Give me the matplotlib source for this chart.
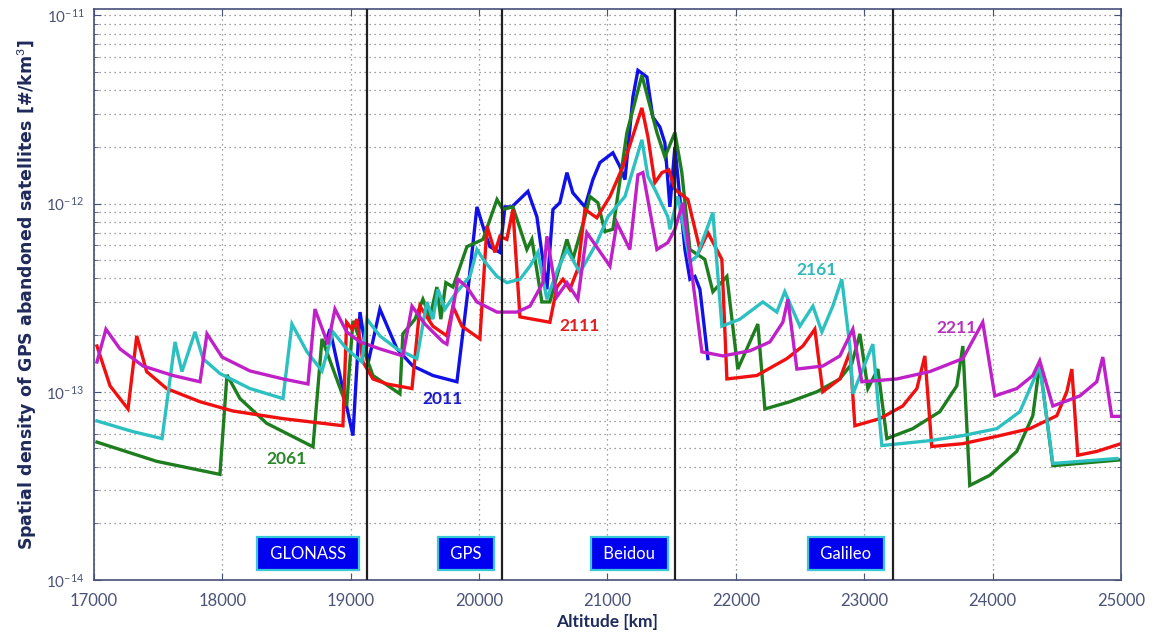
import matplotlib
matplotlib.use('Agg')
import matplotlib.pyplot as plt
from matplotlib.ticker import FixedLocator, NullFormatter, MultipleLocator

plt.rcParams['font.family'] = ['Lato', 'DejaVu Sans']
plt.rcParams['mathtext.fontset'] = 'custom'
plt.rcParams['mathtext.rm'] = 'Lato'
plt.rcParams['mathtext.bf'] = 'Lato:bold'

# altitude [km] / spatial density [#/km^3]
alt_2011 = [18800, 18838, 19017, 19072, 19134, 19227, 19360, 19484, 19640, 19827, 19905, 19983,
            20045, 20084, 20162, 20201, 20255, 20380, 20450, 20528, 20575, 20629, 20684, 20730,
            20824, 20886, 20941, 21042, 21097, 21136, 21198, 21237, 21307, 21353, 21408, 21447,
            21486, 21525, 21603, 21642, 21681, 21720, 21782]
den_2011 = [1.79e-13, 2.15e-13, 5.85e-14, 2.65e-13, 1.41e-13, 2.75e-13, 1.69e-13, 1.37e-13, 1.22e-13,
            1.13e-13, 3.1e-13, 9.6e-13, 7.0e-13, 5.9e-13, 5.5e-13, 9.6e-13, 9.6e-13, 1.16e-12, 8.5e-13,
            3.5e-13, 9.3e-13, 1.01e-12, 1.46e-12, 1.14e-12, 9.6e-13, 1.34e-12, 1.65e-12, 1.86e-12,
            1.57e-12, 1.34e-12, 3.68e-12, 5.1e-12, 4.7e-12, 2.88e-12, 2.55e-12, 2.1e-12, 9.6e-13,
            2.0e-12, 5.7e-13, 3.96e-13, 4.1e-13, 3.5e-13, 1.5e-13]

alt_2061 = [17023, 17488, 17981, 18036, 18137, 18345, 18706, 18776, 18968, 19017, 19173, 19383,
            19406, 19500, 19562, 19617, 19671, 19702, 19741, 19796, 19905, 20030, 20139, 20185,
            20263, 20372, 20411, 20489, 20551, 20684, 20730, 20824, 20863, 20925, 20980, 21042,
            21151, 21268, 21385, 21447, 21525, 21579, 21642, 21758, 21821, 21930, 22015, 22171,
            22226, 22420, 22631, 22810, 22903, 22966, 23028, 23106, 23176, 23378, 23589, 23721,
            23768, 23822, 23978, 24188, 24313, 24367, 24469, 25000]
den_2061 = [5.4e-14, 4.27e-14, 3.64e-14, 1.23e-13, 9.2e-14, 6.8e-14, 5.1e-14, 1.91e-13, 8.4e-14,
            2.38e-13, 1.22e-13, 9.75e-14, 2.03e-13, 2.43e-13, 3.1e-13, 2.5e-13, 3.6e-13, 2.43e-13,
            3.8e-13, 3.6e-13, 5.9e-13, 6.45e-13, 1.05e-12, 9.3e-13, 9.6e-13, 5.7e-13, 6.45e-13,
            3.0e-13, 3.0e-13, 6.45e-13, 5.05e-13, 8.5e-13, 1.09e-12, 1.01e-12, 7.1e-13, 7.3e-13,
            2.38e-12, 4.8e-12, 2.38e-12, 1.77e-12, 2.38e-12, 1.46e-12, 5.7e-13, 5.05e-13, 3.4e-13,
            4.1e-13, 1.32e-13, 2.29e-13, 8.1e-14, 8.85e-14, 1.0e-13, 1.17e-13, 1.41e-13, 2.03e-13,
            1.04e-13, 1.32e-13, 5.64e-14, 6.37e-14, 7.84e-14, 1.075e-13, 1.75e-13, 3.18e-14, 3.6e-14,
            4.82e-14, 7.46e-14, 1.41e-13, 4.05e-14, 4.35e-14]

alt_2111 = [17023, 17125, 17265, 17333, 17410, 17566, 17826, 18083, 18472, 18939, 18968, 19010,
            19048, 19095, 19173, 19282, 19477, 19539, 19640, 19749, 19796, 19866, 20006, 20061,
            20123, 20162, 20216, 20263, 20318, 20551, 20606, 20653, 20707, 20769, 20824, 20917,
            21019, 21120, 21268, 21315, 21369, 21424, 21478, 21525, 21626, 21720, 21782, 21891,
            21930, 22163, 22397, 22522, 22615, 22677, 22810, 22888, 22927, 23121, 23300, 23410,
            23472, 23526, 23768, 24033, 24290, 24500, 24578, 24617, 24663, 24811, 25000]
den_2111 = [1.75e-13, 1.075e-13, 8.1e-14, 1.98e-13, 1.28e-13, 1.04e-13, 8.85e-14, 7.9e-14, 7.2e-14,
            6.6e-14, 2.34e-13, 2.15e-13, 2.43e-13, 1.44e-13, 1.17e-13, 1.10e-13, 1.04e-13, 2.85e-13,
            2.23e-13, 1.98e-13, 2.85e-13, 2.23e-13, 1.91e-13, 7.6e-13, 5.5e-13, 6.7e-13, 6.45e-13,
            9.3e-13, 2.5e-13, 2.34e-13, 3.6e-13, 3.96e-13, 3.5e-13, 4.5e-13, 9.3e-13, 8.4e-13,
            1.09e-12, 1.57e-12, 3.22e-12, 2.26e-12, 1.29e-12, 1.46e-12, 1.51e-12, 1.19e-12, 1.05e-12,
            5.7e-13, 7.0e-13, 5.05e-13, 1.17e-13, 1.22e-13, 1.5e-13, 1.75e-13, 2.15e-13, 1.0e-13,
            1.17e-13, 1.63e-13, 6.6e-14, 7.2e-14, 8.4e-14, 1.04e-13, 1.55e-13, 5.12e-14, 5.3e-14,
            5.8e-14, 6.37e-14, 7.46e-14, 1.0e-13, 1.32e-13, 4.6e-14, 4.82e-14, 5.3e-14]

alt_2161 = [17023, 17304, 17530, 17631, 17685, 17787, 17849, 17981, 18215, 18472, 18542, 18659,
            18776, 18861, 18968, 19087, 19126, 19227, 19360, 19515, 19593, 19640, 19679, 19734,
            19812, 19928, 19983, 20045, 20139, 20216, 20318, 20396, 20458, 20528, 20614, 20684,
            20785, 20917, 21003, 21136, 21268, 21315, 21369, 21470, 21486, 21548, 21642, 21696,
            21821, 21891, 22031, 22210, 22319, 22381, 22498, 22600, 22670, 22755, 22825, 22888,
            22911, 23067, 23137, 23511, 23768, 24033, 24212, 24367, 24469, 24967]
den_2161 = [7.0e-14, 6.14e-14, 5.64e-14, 1.84e-13, 1.28e-13, 2.08e-13, 1.5e-13, 1.25e-13, 1.04e-13,
            9.2e-14, 2.29e-13, 1.63e-13, 1.29e-13, 2.08e-13, 1.69e-13, 1.44e-13, 2.43e-13, 1.98e-13,
            1.69e-13, 1.5e-13, 3.0e-13, 2.43e-13, 3.5e-13, 2.75e-13, 3.3e-13, 4.1e-13, 5.7e-13,
            4.9e-13, 4.1e-13, 3.8e-13, 3.96e-13, 4.65e-13, 5.5e-13, 3.1e-13, 4.5e-13, 5.7e-13,
            4.3e-13, 6.2e-13, 8.5e-13, 1.09e-12, 2.18e-12, 1.39e-12, 1.19e-12, 8.5e-13, 7.3e-13,
            1.09e-12, 4.9e-13, 5.25e-13, 8.96e-13, 2.23e-13, 2.43e-13, 3.0e-13, 2.65e-13, 3.4e-13,
            2.23e-13, 2.85e-13, 2.08e-13, 2.85e-13, 3.96e-13, 1.75e-13, 9.75e-14, 1.79e-13, 5.18e-14,
            5.5e-14, 5.85e-14, 6.37e-14, 7.84e-14, 1.37e-13, 4.16e-14, 4.42e-14]

alt_2211 = [17023, 17093, 17202, 17382, 17615, 17826, 17880, 17997, 18215, 18472, 18667, 18721,
            18822, 18877, 18968, 19072, 19227, 19406, 19477, 19578, 19718, 19749, 19835, 19905,
            19983, 20139, 20294, 20396, 20497, 20528, 20606, 20684, 20769, 20839, 21019, 21073,
            21174, 21237, 21276, 21385, 21470, 21525, 21587, 21735, 21899, 22109, 22265, 22366,
            22405, 22475, 22677, 22810, 22911, 22981, 23254, 23511, 23768, 23923, 24017, 24188,
            24313, 24367, 24469, 24679, 24811, 24858, 24928, 25000]
den_2211 = [1.44e-13, 2.15e-13, 1.69e-13, 1.37e-13, 1.22e-13, 1.13e-13, 2.03e-13, 1.53e-13, 1.29e-13,
            1.17e-13, 1.10e-13, 2.75e-13, 1.79e-13, 2.75e-13, 2.08e-13, 1.84e-13, 1.69e-13, 1.55e-13,
            2.85e-13, 2.29e-13, 1.84e-13, 1.79e-13, 3.96e-13, 3.6e-13, 3.0e-13, 2.65e-13, 2.65e-13,
            2.85e-13, 3.8e-13, 6.7e-13, 3.2e-13, 3.8e-13, 3.1e-13, 7.0e-13, 4.65e-13, 7.9e-13,
            5.7e-13, 1.42e-12, 1.46e-12, 5.7e-13, 6.2e-13, 7.3e-13, 1.01e-12, 1.63e-13, 1.55e-13,
            1.65e-13, 1.84e-13, 2.34e-13, 3.1e-13, 1.32e-13, 1.37e-13, 1.55e-13, 2.15e-13, 1.13e-13,
            1.17e-13, 1.28e-13, 1.5e-13, 2.34e-13, 9.5e-14, 1.04e-13, 1.22e-13, 1.46e-13, 8.4e-14,
            9.5e-14, 1.13e-13, 1.53e-13, 7.4e-14, 7.4e-14]

# year labels placed next to the curves
year_labels = ['2011', '2061', '2111', '2161', '2211']
year_label_alt = [19718, 18503, 20785, 22631, 23721]
year_label_den = [9.2e-14, 4.37e-14, 2.23e-13, 4.43e-13, 2.18e-13]

# constellation altitudes (black lines) and label boxes
const_alt = [19130, 20180, 21528, 23222]
const_names = ['GLONASS', 'GPS', 'Beidou', 'Galileo']
const_label_alt = [18667, 19897, 21171, 22857]

# y axis decades
y_decades = [1e-14, 1e-13, 1e-12, 1e-11]

series = [(alt_2011, den_2011, '#1010e8', '#1a1ad0'),
          (alt_2061, den_2061, '#1e7d1e', '#2a852a'),
          (alt_2111, den_2111, '#f01010', '#e02020'),
          (alt_2161, den_2161, '#2cc0c0', '#30b8b8'),
          (alt_2211, den_2211, '#c020c8', '#b830c0')]

spine_c = '#46507a'
tick_c = '#4a5478'
label_c = '#1f2a5c'

fig = plt.figure(figsize=(11.59, 6.34), dpi=100)
ax = fig.add_axes([94/1159, 54/634, 1027/1159, 571/634])

for alt, den, c, _ in series:
    ax.plot(alt, den, color=c, lw=2.4, solid_joinstyle='miter')

for (alt, den, _, lc), txt, lx, ly in zip(series, year_labels, year_label_alt, year_label_den):
    ax.text(lx, ly, txt, color=lc, fontsize=12.5, fontweight='bold', ha='center', va='center')

for a in const_alt:
    ax.axvline(a, color='#202020', lw=1.6, zorder=4)

for name, a in zip(const_names, const_label_alt):
    ax.text(a, 1.38e-14, ' ' + name + ' ', color='white', fontsize=12, ha='center', va='center',
            zorder=6, bbox=dict(boxstyle='square,pad=0.5', fc='#0000f0', ec='#38c8d8', lw=1.6))

ax.set_yscale('log')
ax.set_xlim(17000, 25000)
ax.set_ylim(1e-14, 1.08e-11)
ax.xaxis.set_major_locator(MultipleLocator(1000))
ax.yaxis.set_major_locator(FixedLocator(y_decades))
minor_y = [m * d for d in y_decades[:-1] for m in range(2, 10)]
ax.yaxis.set_minor_locator(FixedLocator(minor_y))
ax.yaxis.set_minor_formatter(NullFormatter())

ax.grid(True, which='major', axis='both', linestyle=(0, (1, 3)), color='#808080', lw=0.9)
ax.grid(True, which='minor', axis='y', linestyle=(0, (1, 3)), color='#808080', lw=0.9)
ax.set_axisbelow(True)

ax.tick_params(which='both', direction='in', top=True, right=True, colors=spine_c,
               labelcolor=tick_c)
ax.tick_params(axis='x', labelsize=12, pad=9)
ax.tick_params(axis='y', labelsize=11, pad=7)
ax.tick_params(which='major', length=5)
ax.tick_params(which='minor', length=3)
for s in ax.spines.values():
    s.set_color(spine_c)
    s.set_linewidth(1.2)

ax.set_xlabel('Altitude [km]', fontsize=12.5, fontweight='bold', color=label_c, labelpad=4)
ax.set_ylabel('Spatial density of GPS abandoned satellites [#/km$^3$]', fontsize=12.5,
              fontweight='bold', color=label_c, labelpad=5, family=['DejaVu Sans'])

plt.savefig('out.png', dpi=100)
plt.close()
